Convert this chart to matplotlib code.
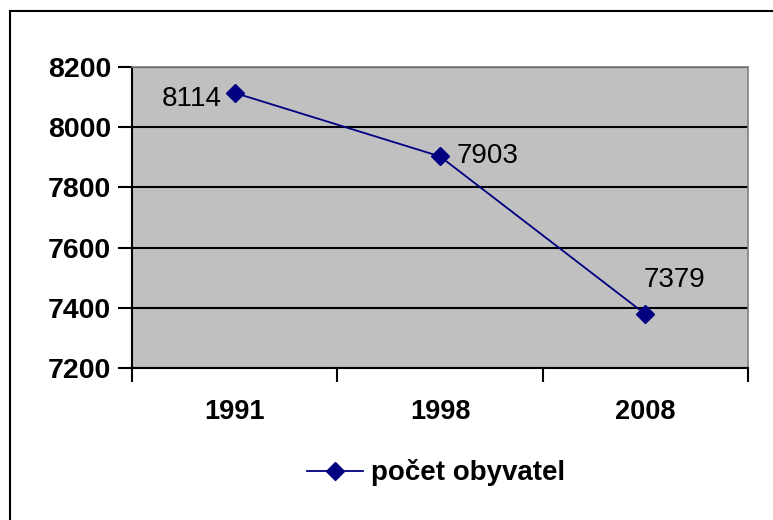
import matplotlib.pyplot as plt
from matplotlib.patches import Rectangle

# data
years = ['1991', '1998', '2008']
obyvatel = [8114, 7903, 7379]
series_name = 'počet obyvatel'
y_ticks = [7200, 7400, 7600, 7800, 8000, 8200]

plt.rcParams['font.family'] = ['Liberation Sans', 'DejaVu Sans']

fig = plt.figure(figsize=(7.73, 5.20), dpi=100)
ax = fig.add_axes([132 / 773, 1 - 368 / 520, 616 / 773, 301 / 520])
ax.set_facecolor('#C0C0C0')

# border round the whole chart
fig.patches.append(Rectangle((10 / 773, -0.05), 1.2, 1 - 10.7 / 520 + 0.05,
                             transform=fig.transFigure, fill=False,
                             edgecolor='black', linewidth=1.5))

xpos = [i + 0.5 for i in range(len(years))]
ax.plot(xpos, obyvatel, color='#000080', linewidth=1.3, marker='D',
        markersize=9, label=series_name, zorder=3)

ax.set_xlim(0, 3)
ax.set_ylim(7200, 8200)
ax.set_yticks(y_ticks)
ax.set_yticklabels([str(v) for v in y_ticks], fontsize=20.5, fontweight='bold')
ax.set_xticks([0, 1, 2, 3])
ax.set_xticklabels([])
for x, lab in zip(xpos, years):
    ax.text(x, -0.145, lab, transform=ax.get_xaxis_transform(), ha='center',
            va='center', fontsize=19.5, fontweight='bold')
ax.tick_params(axis='both', direction='out', length=10, width=1.5, color='black')
ax.tick_params(axis='y', pad=5)

ax.grid(axis='y', color='black', linewidth=1.5)
ax.set_axisbelow(True)
for s in ['top', 'right']:
    ax.spines[s].set_color('#808080')
    ax.spines[s].set_linewidth(1.2)
for s in ['left', 'bottom']:
    ax.spines[s].set_color('black')
    ax.spines[s].set_linewidth(1.5)

# popisky hodnot
ax.annotate(str(obyvatel[0]), (xpos[0], obyvatel[0]), xytext=(-13, -6),
            textcoords='offset pixels', ha='right', va='center', fontsize=20)
ax.annotate(str(obyvatel[1]), (xpos[1], obyvatel[1]), xytext=(17, 0),
            textcoords='offset pixels', ha='left', va='center', fontsize=20)
ax.annotate(str(obyvatel[2]), (xpos[2], obyvatel[2]), xytext=(-2, 21),
            textcoords='offset pixels', ha='left', va='bottom', fontsize=20)

leg = fig.legend(loc='center', bbox_to_anchor=(436 / 773, 1 - 473 / 520),
                 frameon=False, prop={'size': 20, 'weight': 'bold'},
                 handlelength=2.0, handletextpad=0.3)

fig.savefig('out.png', dpi=100)
